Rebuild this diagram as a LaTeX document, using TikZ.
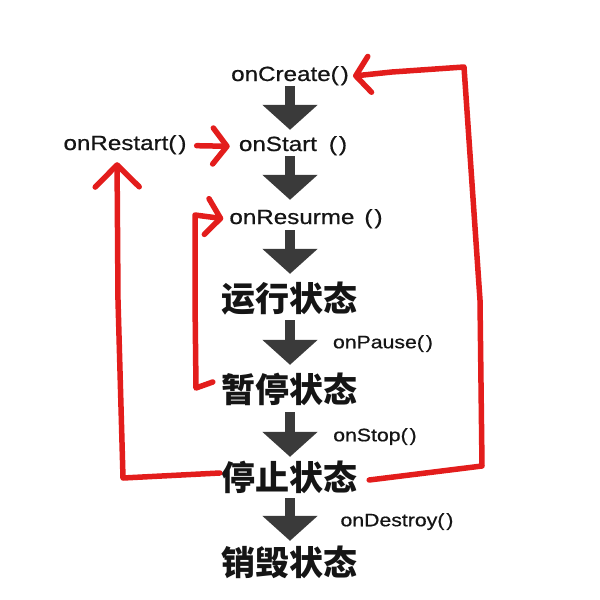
\documentclass[tikz,border=0pt]{standalone}
\usepackage{fontspec}
\setmainfont{Liberation Sans}
\newfontfamily\latinmed[FakeStretch=1.18,FakeBold=0.7]{Liberation Sans}
\newfontfamily\cjk{Noto Sans CJK SC}
\usetikzlibrary{arrows.meta}
\definecolor{redink}{HTML}{E31D1C}
\definecolor{darkarrow}{HTML}{3A3A3A}
\definecolor{inktext}{HTML}{151515}
\begin{document}
\begin{tikzpicture}[x=1pt,y=-1pt,
  fn/.style={inner sep=0pt, text=inktext, font=\latinmed\fontsize{20.5}{24}\selectfont, text height=14pt, text depth=5pt},
  lbl/.style={inner sep=0pt, text=inktext, font=\latinmed\fontsize{18}{21}\selectfont, text height=13pt, text depth=4.5pt},
  st/.style={inner sep=0pt, text=inktext, font=\cjk\bfseries\fontsize{34}{40}\selectfont, text height=30pt, text depth=4pt},
  bigarrow/.style={draw=darkarrow, line width=10pt, -{Triangle[length=25pt,width=54pt]}},
  redpath/.style={draw=redink, line width=5.5pt, line cap=round, line join=round},
  redarrow/.style={redpath, -{Straight Barb[length=14pt,width=36pt,round]}},
  bigredarrow/.style={redpath, -{Straight Barb[length=22pt,width=44pt,round]}}
]
\fill[white] (0,0) rectangle (600,600);
\useasboundingbox (0,0) rectangle (600,600);

% text nodes
\node[fn] (create) at (290,76.5) {onCreate(\kern2pt)};
\node[fn] (start) at (293,146.5) {onStart\hspace{12pt}(\kern2pt)};
\node[fn] (resume) at (306,219.5) {onResurme\hspace{10pt}(\kern2pt)};
\node[fn] (restart) at (125,145.5) {onRestart(\kern2pt)};
\node[st] (run) at (289,298) {运行状态};
\node[st] (pause) at (289,389) {暂停状态};
\node[st] (stopst) at (289,477) {停止状态};
\node[st] (destroy) at (289,562) {销毁状态};
\node[lbl] (lpause) at (383,344) {onPause(\kern2pt)};
\node[lbl] (lstop) at (375,437) {onStop(\kern2pt)};
\node[lbl] (ldestroy) at (397,522) {onDestroy(\kern2pt)};

% dark arrows
\coordinate (ax) at (290,0);
\draw[bigarrow, shorten >=7pt] (create.south -| ax) -- (start.north -| ax);
\draw[bigarrow, shorten >=10pt] (start.south -| ax) -- (resume.north -| ax);
\draw[bigarrow, shorten <=1pt, shorten >=7pt] (resume.south -| ax) -- (run.north -| ax);
\draw[bigarrow, shorten <=5pt, shorten >=7pt] (run.south -| ax) -- (pause.north -| ax);
\draw[bigarrow, shorten <=6pt, shorten >=3pt] (pause.south -| ax) -- (stopst.north -| ax);
\draw[bigarrow, shorten <=4pt, shorten >=4pt] (stopst.south -| ax) -- (destroy.north -| ax);

% red connectors
\draw[redarrow, shorten <=10pt, shorten >=9pt] (restart.east) -- (start.west);
\draw[bigredarrow, shorten >=7pt] ([xshift=-1pt,yshift=4pt]stopst.west) -- (123,478) -- (118,300) -- (restart.south -| 117,0);
\draw[redarrow, shorten >=4pt] ([xshift=12pt,yshift=-3pt]stopst.east) -- (482,466) -- (480,300) -- (464,67) -- (392,72) -- (create.east);
\draw[redarrow, shorten >=6pt] ([xshift=-8pt,yshift=7pt]pause.west) -- (196,388) -- (195,300) -- (195,215) -- (resume.west);
\end{tikzpicture}
\end{document}
